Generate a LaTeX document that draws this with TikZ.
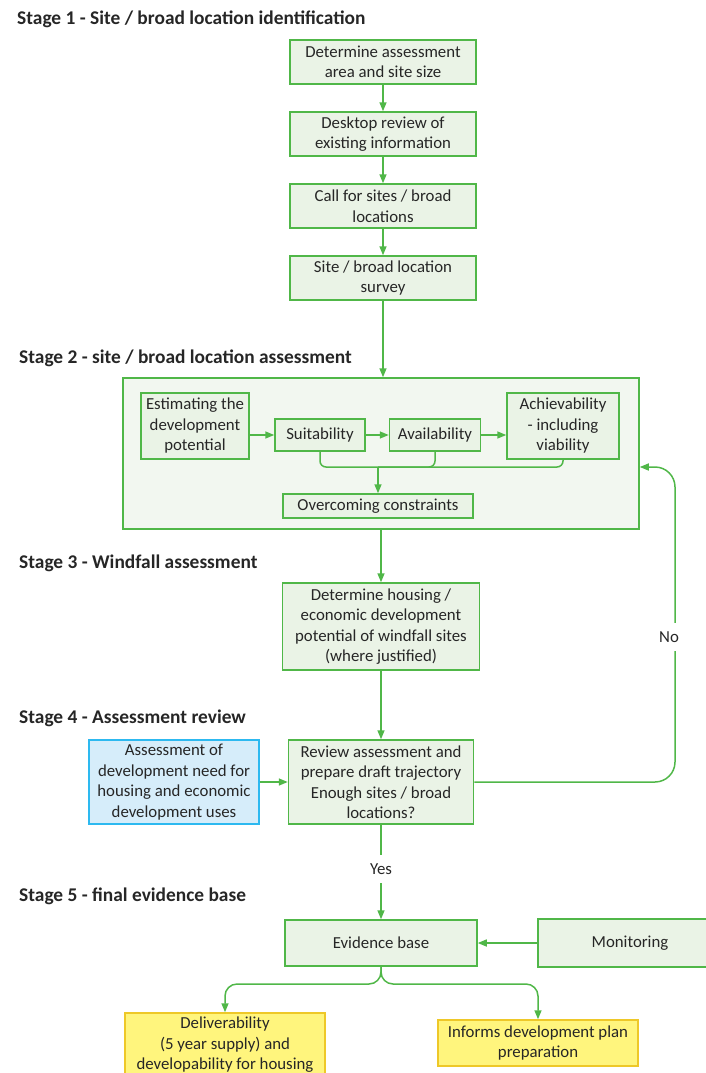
\documentclass[tikz,border=0pt]{standalone}
\usepackage{fontspec}
\setmainfont{Carlito}
\usetikzlibrary{arrows.meta}
\definecolor{boxgreen}{RGB}{80,183,72}
\definecolor{palegreen}{RGB}{234,243,230}
\definecolor{stagegreen}{RGB}{242,247,240}
\definecolor{skyblue}{RGB}{45,185,240}
\definecolor{paleblue}{RGB}{214,237,250}
\definecolor{gold}{RGB}{238,200,40}
\definecolor{paleyellow}{RGB}{255,245,125}
\definecolor{inkgray}{RGB}{38,38,38}

\begin{document}
\begin{tikzpicture}[x=1pt, y=-1pt,
  every node/.style={font=\fontsize{16.8}{20.5}\selectfont, text=inkgray},
  box/.style={draw=boxgreen, fill=palegreen, line width=1.5pt, align=center, inner sep=0pt},
  bluebox/.style={box, draw=skyblue, fill=paleblue},
  yellowbox/.style={box, draw=gold, fill=paleyellow},
  stage/.style={anchor=west, inner sep=0pt, font=\fontsize{19.4}{22}\selectfont\bfseries},
  arr/.style={-{Triangle[length=9pt, width=7pt]}, line width=1.5pt, draw=boxgreen},
  link/.style={line width=1.5pt, draw=boxgreen},
  lbl/.style={fill=white, inner xsep=2pt, inner ysep=9pt}
]
\useasboundingbox (0,0) rectangle (706,1073);

% stage 1
\node[stage] (t1) at (17,19) {Stage 1 - Site / broad location identification};
\node[box, minimum width=186pt, minimum height=44pt] (area)   at (383,62)  {Determine assessment\\area and site size};
\node[box, minimum width=186pt, minimum height=44pt] (desk)   at (383,134) {Desktop review of\\existing information};
\node[box, minimum width=186pt, minimum height=44pt] (call)   at (383,206) {Call for sites / broad\\locations};
\node[box, minimum width=186pt, minimum height=44pt] (survey) at (383,278) {Site / broad location\\survey};

% stage 2
\node[stage] (t2) at (19,358) {Stage 2 - site / broad location assessment};
\node[box, fill=stagegreen, minimum width=516pt, minimum height=151pt] (assess) at (381,453.5) {};
\node[box, minimum width=108pt, minimum height=66pt] (estim)  at (195,426) {Estimating the\\development\\potential};
\node[box, minimum width=90pt,  minimum height=32pt] (suit)   at (320,435) {Suitability};
\node[box, minimum width=91pt,  minimum height=32pt] (avail)  at (435,435) {Availability};
\node[box, minimum width=112pt, minimum height=66pt] (achiev) at (563,426) {Achievability\\- including\\viability};
\node[box, minimum width=190pt, minimum height=24pt] (constr) at (378,506) {Overcoming constraints};
\coordinate (merge) at (378,467);

% stage 3
\node[stage] (t3) at (19,563) {Stage 3 - Windfall assessment};
\node[box, minimum width=197pt, minimum height=87pt] (windfall) at (381,626.5) {Determine housing /\\economic development\\potential of windfall sites\\(where justified)};

% stage 4
\node[stage] (t4) at (19,718) {Stage 4 - Assessment review};
\node[bluebox, minimum width=170pt, minimum height=84pt] (need) at (174,782) {Assessment of\\development need for\\housing and economic\\development uses};
\node[box, minimum width=185pt, minimum height=84pt] (review) at (381,782) {Review assessment and\\prepare draft trajectory\\Enough sites / broad\\locations?};
\coordinate (loopx) at (675,0);

% stage 5
\node[stage] (t5) at (19,896) {Stage 5 - final evidence base};
\node[box, minimum width=192pt, minimum height=46pt] (evid)  at (381,943) {Evidence base};
\node[box, minimum width=184pt, minimum height=48pt] (monit) at (630,943) {Monitoring};
\node[yellowbox, minimum width=200pt, minimum height=64pt] (deliv)   at (225,1045) {Deliverability\\(5 year supply) and\\developability for housing};
\node[yellowbox, minimum width=200pt, minimum height=46pt] (informs) at (538,1043) {Informs development plan\\preparation};
\coordinate (fork) at (381,984);

% connectors
\draw[arr] (area) -- (desk);
\draw[arr] (desk) -- (call);
\draw[arr] (call) -- (survey);
\draw[arr] (survey.south) -- (survey.south |- assess.north);
\draw[arr] (estim.east |- suit) -- (suit);
\draw[arr] (suit) -- (avail);
\draw[arr] (avail) -- (achiev.west |- avail);
\draw[link, rounded corners=6pt] (suit.south) |- (merge) -| (achiev.south);
\draw[link, rounded corners=6pt] (avail.south) |- (merge);
\draw[arr] (merge) -- (constr);
\draw[arr] (assess) -- (windfall);
\draw[arr] (windfall) -- (review);
\draw[arr] (need) -- (review);
\draw[arr, rounded corners=20pt] (review.east) -| (loopx |- merge) -- (assess.east |- merge);
\node[lbl] (no) at (669,637) {No};
\draw[arr] (review) -- (evid);
\node[lbl] (yes) at (381,869) {Yes};
\draw[arr] (monit.west |- evid) -- (evid);
\draw[arr, rounded corners=12pt] (evid.south) -- (fork) -| (deliv.north);
\draw[arr, rounded corners=12pt] (evid.south) -- (fork) -| (informs.north);
\end{tikzpicture}
\end{document}
